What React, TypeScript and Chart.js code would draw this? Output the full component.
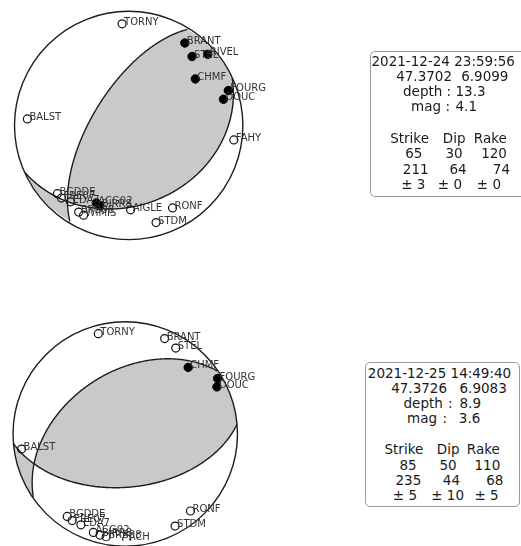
import { useEffect, useRef } from "react";
import { Chart, registerables } from "chart.js";

Chart.register(...registerables);

// ---- Event 1 ----
const ev1Time = "2021-12-24 23:59:56";
const ev1Lat = 47.3702;
const ev1Lon = 6.9099;
const ev1Depth = 13.3;
const ev1Mag = 4.1;
const ev1Plane1 = [65, 30, 120];
const ev1Plane2 = [211, 64, 74];
const ev1Err = [3, 0, 0];
const ev1Stations = ["TORNY", "BRANT", "STEL", "RIVEL", "CHMF", "FOURG", "DOUC", "FAHY", "BALST", "AIGLE", "RONF", "STDM", "BGDDE", "FRE07", "EDA7", "ACG02", "BIRR8", "BRB08", "WIMIS"];
const ev1X = [-0.058, 0.492, 0.555, 0.693, 0.584, 0.873, 0.83, 0.921, -0.887, 0.017, 0.384, 0.24, -0.624, -0.588, -0.509, -0.283, -0.253, -0.438, -0.395];
const ev1Y = [0.907, 0.736, 0.615, 0.635, 0.415, 0.312, 0.234, -0.129, 0.058, -0.753, -0.736, -0.867, -0.609, -0.648, -0.682, -0.691, -0.717, -0.773, -0.801];
const ev1Up = [0, 1, 1, 1, 1, 1, 1, 0, 0, 0, 0, 0, 0, 0, 0, 1, 1, 0, 0];

// ---- Event 2 ----
const ev2Time = "2021-12-25 14:49:40";
const ev2Lat = 47.3726;
const ev2Lon = 6.9083;
const ev2Depth = 8.9;
const ev2Mag = 3.6;
const ev2Plane1 = [85, 50, 110];
const ev2Plane2 = [235, 44, 68];
const ev2Err = [5, 10, 5];
const ev2Stations = ["TORNY", "BRANT", "STEL", "CHMF", "FOURG", "DOUC", "BALST", "RONF", "STDM", "BGDDE", "FRE07", "EDA7", "ACG02", "BIRR8", "BRB08", "ACH"];
const ev2X = [-0.24, 0.351, 0.45, 0.561, 0.823, 0.817, -0.924, 0.581, 0.444, -0.517, -0.473, -0.395, -0.284, -0.225, -0.17, 0.013];
const ev2Y = [0.911, 0.867, 0.78, 0.605, 0.504, 0.428, -0.137, -0.699, -0.836, -0.748, -0.786, -0.824, -0.893, -0.917, -0.932, -0.952];
const ev2Up = [0, 0, 0, 1, 1, 1, 0, 0, 0, 0, 0, 0, 0, 0, 0, 0];

// ---- focal sphere geometry (N, E, Down), lower hemisphere, equal-area ----
type Vec = [number, number, number];
type P2 = [number, number];
const DEG = Math.PI / 180;

function planeNormal(strike: number, dip: number): Vec {
  const s = strike * DEG, d = dip * DEG;
  return [-Math.sin(d) * Math.sin(s), Math.sin(d) * Math.cos(s), -Math.cos(d)];
}

function slipVector(strike: number, dip: number, rake: number): Vec {
  const s = strike * DEG, d = dip * DEG, r = rake * DEG;
  return [
    Math.cos(r) * Math.cos(s) + Math.cos(d) * Math.sin(r) * Math.sin(s),
    Math.cos(r) * Math.sin(s) - Math.cos(d) * Math.sin(r) * Math.cos(s),
    -Math.sin(r) * Math.sin(d),
  ];
}

function project(v: Vec): P2 {
  let [n, e, dn] = v;
  if (dn < 0) { n = -n; e = -e; dn = -dn; }
  const len = Math.hypot(n, e, dn);
  const inc = Math.acos(Math.min(1, dn / len));
  const r = Math.SQRT2 * Math.sin(inc / 2);
  const h = Math.hypot(n, e);
  if (h < 1e-12) return [0, 0];
  return [(r * e) / h, (r * n) / h];
}

function greatCircle(n: Vec, steps = 240): { pts: P2[]; u1: Vec } {
  let u1: Vec = [n[1], -n[0], 0];
  let l = Math.hypot(u1[0], u1[1]);
  if (l < 1e-9) { u1 = [1, 0, 0]; l = 1; }
  u1 = [u1[0] / l, u1[1] / l, 0];
  let u2: Vec = [
    n[1] * u1[2] - n[2] * u1[1],
    n[2] * u1[0] - n[0] * u1[2],
    n[0] * u1[1] - n[1] * u1[0],
  ];
  const l2 = Math.hypot(u2[0], u2[1], u2[2]);
  u2 = [u2[0] / l2, u2[1] / l2, u2[2] / l2];
  if (u2[2] < 0) u2 = [-u2[0], -u2[1], -u2[2]];
  const pts: P2[] = [];
  for (let i = 0; i <= steps; i++) {
    const t = (Math.PI * i) / steps;
    const c = Math.cos(t), s = Math.sin(t);
    pts.push(project([c * u1[0] + s * u2[0], c * u1[1] + s * u2[1], Math.max(0, c * u1[2] + s * u2[2])]));
  }
  return { pts, u1 };
}

// region of the lower hemisphere where n·v > 0
function halfRegion(n: Vec, steps = 240): P2[] {
  const { pts, u1 } = greatCircle(n, steps);
  const a0 = Math.atan2(-u1[1], -u1[0]);
  const test = a0 + Math.PI / 2;
  const sgn = n[0] * Math.cos(test) + n[1] * Math.sin(test) > 0 ? 1 : -1;
  const out = pts.slice();
  for (let i = 0; i <= steps; i++) {
    const a = a0 + (sgn * Math.PI * i) / steps;
    out.push([Math.sin(a), Math.cos(a)]);
  }
  return out;
}

const SHADE = "#c9c9c9";
const LINE = "#1c1c1c";

function makeBeachball(p1: number[], p2: number[], names: string[], xs: number[], ys: number[]) {
  return {
    id: "beachball",
    beforeDatasetsDraw(chart: any) {
      const ctx: CanvasRenderingContext2D = chart.ctx;
      const sx = chart.scales.x, sy = chart.scales.y;
      const px = (p: P2): P2 => [sx.getPixelForValue(p[0]), sy.getPixelForValue(p[1])];
      const path = (pts: P2[], close: boolean) => {
        ctx.beginPath();
        pts.forEach((p, i) => {
          const [x, y] = px(p);
          if (i) ctx.lineTo(x, y); else ctx.moveTo(x, y);
        });
        if (close) ctx.closePath();
      };
      const n = planeNormal(p1[0], p1[1]);
      const d = slipVector(p1[0], p1[1], p1[2]);
      ctx.save();
      // compressional quadrants: (n·v)(d·v) > 0
      for (const sg of [1, -1]) {
        ctx.save();
        path(halfRegion([n[0] * sg, n[1] * sg, n[2] * sg]), true);
        ctx.clip();
        path(halfRegion([d[0] * sg, d[1] * sg, d[2] * sg]), true);
        ctx.fillStyle = SHADE;
        ctx.fill();
        ctx.restore();
      }
      ctx.strokeStyle = LINE;
      ctx.lineWidth = 1.4;
      path(greatCircle(planeNormal(p1[0], p1[1])).pts, false);
      ctx.stroke();
      path(greatCircle(planeNormal(p2[0], p2[1])).pts, false);
      ctx.stroke();
      const [cx, cy] = px([0, 0]);
      const R = sx.getPixelForValue(1) - cx;
      ctx.beginPath();
      ctx.arc(cx, cy, R, 0, Math.PI * 2);
      ctx.stroke();
      ctx.restore();
    },
    afterDatasetsDraw(chart: any) {
      const ctx: CanvasRenderingContext2D = chart.ctx;
      const sx = chart.scales.x, sy = chart.scales.y;
      ctx.save();
      ctx.font = '10px "DejaVu Sans"';
      ctx.fillStyle = "#333";
      ctx.textBaseline = "alphabetic";
      ctx.textAlign = "left";
      names.forEach((nm, i) => {
        ctx.fillText(nm, sx.getPixelForValue(xs[i]) + 2, sy.getPixelForValue(ys[i]) + 1);
      });
      ctx.restore();
    },
  };
}

const PANEL_W = 521;
const PANEL_H = 273;

function BallChart(props: {
  top: number; cx: number; cy: number; R: number;
  p1: number[]; p2: number[]; names: string[]; xs: number[]; ys: number[]; up: number[];
}) {
  const ref = useRef<HTMLCanvasElement | null>(null);
  useEffect(() => {
    const { cx, cy, R, p1, p2, names, xs, ys, up } = props;
    const upPts = xs.map((x, i) => ({ x, y: ys[i] })).filter((_, i) => up[i] === 1);
    const dnPts = xs.map((x, i) => ({ x, y: ys[i] })).filter((_, i) => up[i] !== 1);
    const chart = new Chart(ref.current as HTMLCanvasElement, {
      type: "scatter",
      data: {
        datasets: [
          {
            label: "up",
            data: upPts,
            pointRadius: 4.2,
            pointBackgroundColor: "#000",
            pointBorderColor: "#000",
            pointBorderWidth: 1,
          },
          {
            label: "down",
            data: dnPts,
            pointRadius: 4,
            pointBackgroundColor: "rgba(255,255,255,0)",
            pointBorderColor: "#111",
            pointBorderWidth: 1.2,
          },
        ],
      },
      options: {
        responsive: false,
        maintainAspectRatio: false,
        animation: false,
        events: [],
        layout: { padding: 0 },
        plugins: { legend: { display: false }, tooltip: { enabled: false } },
        scales: {
          x: { type: "linear", display: false, min: -cx / R, max: (PANEL_W - cx) / R },
          y: { type: "linear", display: false, min: (cy - PANEL_H) / R, max: cy / R },
        },
      },
      plugins: [makeBeachball(p1, p2, names, xs, ys)],
    } as any);
    return () => chart.destroy();
  }, []);
  return (
    <canvas
      ref={ref}
      width={PANEL_W}
      height={PANEL_H}
      style={{ position: "absolute", left: 0, top: props.top, width: PANEL_W, height: PANEL_H }}
    />
  );
}

function InfoBox(props: {
  left: number; top: number; width: number; height: number;
  lineY: number[]; tokX: number[][]; tokens: string[][];
}) {
  const { left, top, width, height, lineY, tokX, tokens } = props;
  return (
    <div
      style={{
        position: "absolute",
        left,
        top,
        width,
        height,
        boxSizing: "border-box",
        border: "1.5px solid #9a9a9a",
        borderRadius: 5,
        background: "#fff",
      }}
    >
      {tokens.map((line, li) =>
        line.map((t, ti) => (
          <span
            key={li + "-" + ti}
            style={{
              position: "absolute",
              left: tokX[li][ti] - left - 1.5,
              top: lineY[li] - top - 1.5 - 7.7,
              font: '13.5px "DejaVu Sans"',
              lineHeight: "16px",
              whiteSpace: "pre",
              color: "#1a1a1a",
            }}
          >
            {t}
          </span>
        ))
      )}
    </div>
  );
}

function boxTokens(time: string, lat: number, lon: number, depth: number, mag: number, a: number[], b: number[], err: number[]): string[][] {
  return [
    [time],
    [lat.toFixed(4), lon.toFixed(4)],
    ["depth", ":", depth.toFixed(1)],
    ["mag", ":", mag.toFixed(1)],
    ["Strike", "Dip", "Rake"],
    a.map((v) => String(v)),
    b.map((v) => String(v)),
    err.map((v) => "\u00b1 " + v),
  ];
}

export default function App() {
  return (
    <div style={{ position: "absolute", left: 0, top: 0, width: 521, height: 546, overflow: "hidden", background: "#fff" }}>
      <BallChart top={0} cx={126} cy={125} R={116.5} p1={ev1Plane1} p2={ev1Plane2} names={ev1Stations} xs={ev1X} ys={ev1Y} up={ev1Up} />
      <BallChart top={PANEL_H} cx={122.5} cy={435 - PANEL_H} R={114.5} p1={ev2Plane1} p2={ev2Plane2} names={ev2Stations} xs={ev2X} ys={ev2Y} up={ev2Up} />
      <InfoBox
        left={370}
        top={51}
        width={160}
        height={146}
        lineY={[61, 76, 91.5, 106.5, 138, 153.5, 169, 184.5]}
        tokX={[[372], [396.7, 461.7], [403.5, 447, 456], [411.5, 446, 456], [390.7, 443.3, 474.3], [405.7, 446, 481.7], [403.3, 450, 493.3], [401.7, 438.3, 477.3]]}
        tokens={boxTokens(ev1Time, ev1Lat, ev1Lon, ev1Depth, ev1Mag, ev1Plane1, ev1Plane2, ev1Err)}
      />
      <InfoBox
        left={365}
        top={362}
        width={155}
        height={145}
        lineY={[373, 388, 403, 418, 449, 465, 480, 495]}
        tokX={[[368.3], [391.7, 460], [404, 448.5, 460], [407.5, 443, 459.3], [385, 437.3, 467.3], [400, 440, 475], [396, 443.3, 486.7], [393.3, 431.7, 475]]}
        tokens={boxTokens(ev2Time, ev2Lat, ev2Lon, ev2Depth, ev2Mag, ev2Plane1, ev2Plane2, ev2Err)}
      />
    </div>
  );
}
